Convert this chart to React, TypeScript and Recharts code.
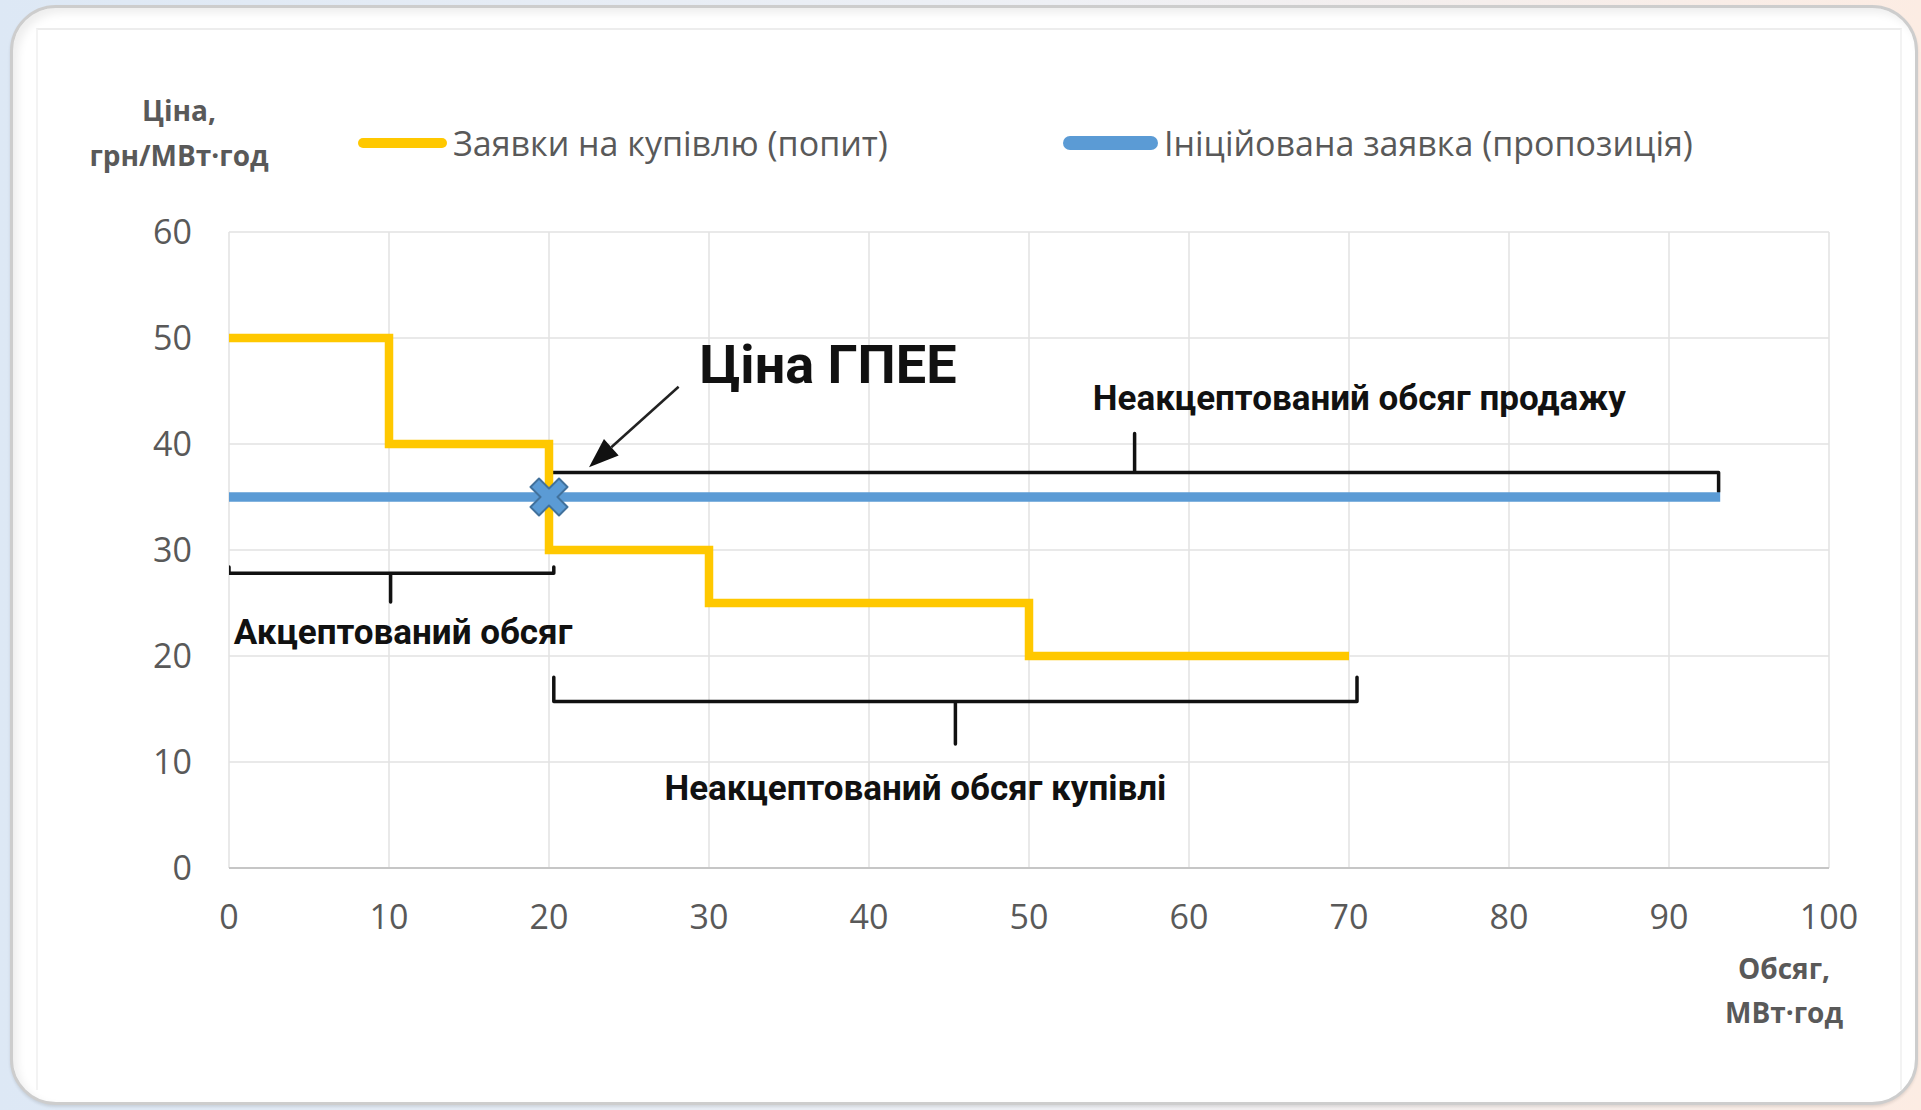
import {
  CartesianGrid,
  ComposedChart,
  Legend,
  Line,
  ReferenceDot,
  ReferenceLine,
  Scatter,
  XAxis,
  YAxis,
} from "recharts"

// demand (buy bids) step curve
const demandVolume = [0, 10, 20, 30, 50, 70]
const demandPrice = [50, 40, 30, 25, 20, 20]

// initiated (sell) bid
const supplyVolume = [0, 93.2]
const supplyPrice = [35, 35]

// clearing point
const clearingVolume = [20]
const clearingPrice = [35]

const xTicks = [0, 10, 20, 30, 40, 50, 60, 70, 80, 90, 100]
const yTicks = [0, 10, 20, 30, 40, 50, 60]

const demandName = "Заявки на купівлю (попит)"
const supplyName = "Ініційована заявка (пропозиція)"
const legendOrder = [demandName, supplyName]

// braces, in data units: from/to along x, y of the bar, hookY for ends, tick point
const braceFrom = [0, 20.05, 20.3]
const braceTo = [20.3, 93.1, 70.5]
const braceY = [27.8, 37.3, 15.7]
const braceHookY = [28.4, 35.5, 18.0]
const braceTickX = [10.1, 56.6, 45.4]
const braceTickY = [25.1, 41.0, 11.7]

// text annotations, in data units
const noteText = [
  "Ціна ГПЕЕ",
  "Неакцептований обсяг продажу",
  "Акцептований обсяг",
  "Неакцептований обсяг купівлі",
]
const noteX = [29.4, 70.65, 0.3, 42.9]
const noteY = [47.6, 44.4, 22.3, 7.6]

// arrow pointing at the clearing price
const arrowFrom = { x: 28.1, y: 45.4 }
const arrowTo = { x: 22.5, y: 37.8 }

const demand = demandVolume.map((x, i) => ({ x, y: demandPrice[i] }))
const supply = supplyVolume.map((x, i) => ({ x, y: supplyPrice[i] }))
const clearing = clearingVolume.map((x, i) => ({ x, y: clearingPrice[i] }))
const braces = braceFrom.map((from, i) => [
  { x: from, y: braceHookY[i] },
  { x: from, y: braceY[i] },
  { x: braceTickX[i], y: braceY[i] },
  { x: braceTickX[i], y: braceTickY[i] },
  { x: braceTickX[i], y: braceY[i] },
  { x: braceTo[i], y: braceY[i] },
  { x: braceTo[i], y: braceHookY[i] },
])

const gray = "#595959"
const yellow = "#FFC800"
const blue = "#5B9BD5"

const XMark = (props: any) => {
  const { cx, cy } = props
  const h = 18.5
  const a = 8.5
  const pts = [
    [-h, -h + a], [-h + a, -h], [0, -a], [h - a, -h], [h, -h + a], [a, 0],
    [h, h - a], [h - a, h], [0, a], [-h + a, h], [-h, h - a], [-a, 0],
  ]
  return (
    <polygon
      points={pts.map(([px, py]) => `${cx + px},${cy + py}`).join(" ")}
      fill={blue}
      stroke="#41719C"
      strokeWidth={2}
      strokeLinejoin="round"
    />
  )
}

const Arrow = (props: any) => {
  const { x1, y1, x2, y2 } = props
  const ang = Math.atan2(y2 - y1, x2 - x1)
  const len = 30
  const half = 11
  const bx = x2 - len * Math.cos(ang)
  const by = y2 - len * Math.sin(ang)
  const nx = -Math.sin(ang) * half
  const ny = Math.cos(ang) * half
  return (
    <g>
      <line x1={x1} y1={y1} x2={bx} y2={by} stroke="#222" strokeWidth={2.5} />
      <polygon points={`${x2},${y2} ${bx + nx},${by + ny} ${bx - nx},${by - ny}`} fill="#111" />
    </g>
  )
}

const noteShape = (i: number) => (props: any) => {
  const { cx, cy } = props
  const big = i === 0
  return (
    <text
      x={cx}
      y={cy}
      dy="0.36em"
      textAnchor={i === 0 || i === 2 ? "start" : "middle"}
      fontFamily="Roboto"
      fontWeight={700}
      fontSize={big ? 54 : 35}
      fill="#111"
    >
      {noteText[i]}
    </text>
  )
}

const renderLegend = (props: any) => {
  const items = (props.payload || [])
    .filter((p: any) => legendOrder.includes(p.value))
    .sort((a: any, b: any) => legendOrder.indexOf(a.value) - legendOrder.indexOf(b.value))
  return (
    <div style={{ position: "relative", width: 1921, height: 200 }}>
      {items.map((p: any, i: number) => {
        const left = i === 0 ? 358 : 1063
        const w = i === 0 ? 89 : 95
        const t = i === 0 ? 10 : 14
        return (
          <div
            key={p.value}
            style={{ position: "absolute", left, top: 122, display: "flex", alignItems: "center", height: 42 }}
          >
            <div style={{ width: w, height: t, borderRadius: t / 2, background: p.color }} />
            <span
              style={{
                marginLeft: 6,
                fontFamily: "Open Sans",
                fontSize: 34,
                color: gray,
                whiteSpace: "nowrap",
                lineHeight: "42px",
              }}
            >
              {p.value}
            </span>
          </div>
        )
      })}
    </div>
  )
}

const YTitle = (props: any) => {
  const { x, y } = props.viewBox
  return (
    <text x={x + 30} y={y - 121} textAnchor="middle" fontFamily="Open Sans" fontWeight={700} fontSize={28} fill={gray}>
      <tspan x={x + 30} dy="0.36em">Ціна,</tspan>
      <tspan x={x + 30} dy={45}>грн/МВт·год</tspan>
    </text>
  )
}

const XTitle = (props: any) => {
  const { x, y, width } = props.viewBox
  const cx = x + width - 45
  return (
    <text x={cx} y={y + 101} textAnchor="middle" fontFamily="Open Sans" fontWeight={700} fontSize={28} fill={gray}>
      <tspan x={cx} dy="0.36em">Обсяг,</tspan>
      <tspan x={cx} dy={44}>МВт·год</tspan>
    </text>
  )
}

export default function App() {
  return (
    <div
      style={{
        position: "fixed",
        inset: 0,
        background: "linear-gradient(90deg, #dde8f5 0%, #eef0f5 55%, #fcece3 100%)",
        overflow: "hidden",
      }}
    >
      <div
        style={{
          position: "absolute",
          left: 10,
          top: 5,
          width: 1902,
          height: 1094,
          borderRadius: 46,
          background: "#ffffff",
          border: "3px solid #cdcdcd",
          boxShadow: "inset 5px 5px 8px rgba(0,0,0,0.07), 0 2px 3px rgba(0,0,0,0.1)",
        }}
      />
      <div
        style={{
          position: "absolute",
          left: 36,
          top: 28,
          width: 1862,
          height: 1060,
          borderTop: "2px solid #ededed",
          borderLeft: "2px solid #f3f3f3",
          borderRight: "2px solid #f3f3f3",
        }}
      />
      <div style={{ position: "absolute", left: 0, top: 0 }}>
        <ComposedChart
          width={1921}
          height={1110}
          margin={{ top: 232, right: 92, left: 149, bottom: 182 }}
        >
          <CartesianGrid stroke="#e2e2e2" strokeWidth={1.5} />
          <XAxis
            type="number"
            dataKey="x"
            domain={[0, 100]}
            ticks={xTicks}
            height={60}
            axisLine={{ stroke: "#c6c6c6", strokeWidth: 2 }}
            tickLine={false}
            tickMargin={31}
            tick={{ fill: gray, fontSize: 34, fontFamily: "Open Sans" }}
            allowDataOverflow
            label={{ content: XTitle }}
          />
          <YAxis
            type="number"
            dataKey="y"
            domain={[0, 60]}
            ticks={yTicks}
            width={80}
            axisLine={false}
            tickLine={false}
            tickMargin={31}
            tick={{ fill: gray, fontSize: 34, fontFamily: "Open Sans" }}
            label={{ content: YTitle }}
          />
          <Legend
            layout="vertical"
            align="center"
            verticalAlign="middle"
            content={renderLegend}
            wrapperStyle={{ left: 0, top: 0, width: 1921, height: 200 }}
          />
          {braces.map((b, i) => (
            <Line
              key={`brace-${i}`}
              data={b}
              dataKey="y"
              type="linear"
              stroke="#111"
              strokeWidth={3.5}
              strokeLinejoin="round"
              strokeLinecap="round"
              dot={false}
              activeDot={false}
              legendType="none"
              isAnimationActive={false}
            />
          ))}
          <Line
            data={demand}
            dataKey="y"
            name={demandName}
            type="stepAfter"
            stroke={yellow}
            strokeWidth={8.5}
            dot={false}
            activeDot={false}
            isAnimationActive={false}
          />
          <Line
            data={supply}
            dataKey="y"
            name={supplyName}
            type="linear"
            stroke={blue}
            strokeWidth={9.5}
            dot={false}
            activeDot={false}
            isAnimationActive={false}
          />
          <Scatter
            data={clearing}
            dataKey="y"
            legendType="none"
            shape={XMark}
            isAnimationActive={false}
          />
          <ReferenceLine
            segment={[arrowFrom, arrowTo]}
            shape={Arrow}
            ifOverflow="visible"
          />
          {noteText.map((t, i) => (
            <ReferenceDot
              key={t}
              x={noteX[i]}
              y={noteY[i]}
              r={0}
              ifOverflow="visible"
              shape={noteShape(i)}
            />
          ))}
        </ComposedChart>
      </div>
    </div>
  )
}
